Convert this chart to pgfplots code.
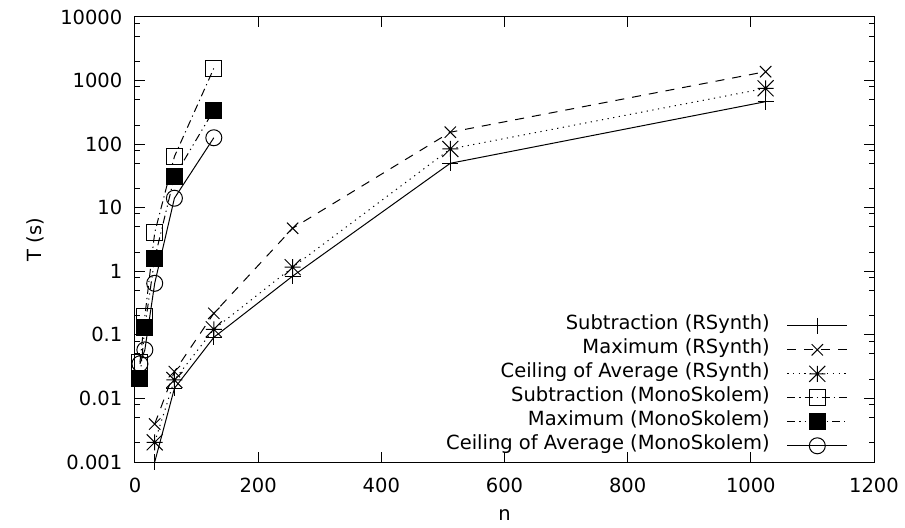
\documentclass[border=0pt]{standalone}
\usepackage{fontspec}
\setmainfont{DejaVu Sans}
\usepackage{pgfplots}
\pgfplotsset{compat=1.18}

% gnuplot style star: plus and cross together
\pgfdeclareplotmark{gstar}{%
  \pgfpathmoveto{\pgfqpoint{-\pgfplotmarksize}{0pt}}%
  \pgfpathlineto{\pgfqpoint{\pgfplotmarksize}{0pt}}%
  \pgfpathmoveto{\pgfqpoint{0pt}{-\pgfplotmarksize}}%
  \pgfpathlineto{\pgfqpoint{0pt}{\pgfplotmarksize}}%
  \pgfpathmoveto{\pgfqpoint{-\pgfplotmarksize}{-\pgfplotmarksize}}%
  \pgfpathlineto{\pgfqpoint{\pgfplotmarksize}{\pgfplotmarksize}}%
  \pgfpathmoveto{\pgfqpoint{-\pgfplotmarksize}{\pgfplotmarksize}}%
  \pgfpathlineto{\pgfqpoint{\pgfplotmarksize}{-\pgfplotmarksize}}%
  \pgfusepathqstroke}

\begin{document}
\begin{tikzpicture}
\begin{axis}[
    scale only axis,
    width=739bp, height=445bp,
    xmin=0, xmax=1200,
    ymode=log, ymin=0.001, ymax=10000,
    font=\fontsize{19.5bp}{23bp}\selectfont,
    axis line style={line width=1bp},
    every tick/.style={line width=1bp, black},
    major tick length=10bp, minor tick length=5bp,
    xtick={0,200,400,600,800,1000,1200},
    xticklabels={0,200,400,600,800,1000,1200},
    ytick={0.001,0.01,0.1,1,10,100,1000,10000},
    yticklabels={0.001,0.01,0.1,1,10,100,1000,10000},
    minor ytick={0.002,0.005,0.008,0.02,0.05,0.08,0.2,0.5,0.8,2,5,8,20,50,80,200,500,800,2000,5000,8000},
    xticklabel style={anchor=base, inner sep=0pt, yshift=-30bp},
    yticklabel style={anchor=east, inner sep=0pt, xshift=-12.5bp},
    xlabel={n}, ylabel={T (s)},
    every axis x label/.style={at={(axis description cs:0.5,-0.1191)}, anchor=center},
    every axis y label/.style={at={(axis description cs:-0.1353,0.5)}, anchor=center, rotate=90},
    legend plot pos=right,
    legend cell align=right,
    legend image code/.code={\draw[mark repeat=2, mark phase=2] plot coordinates {(0bp,0bp) (30bp,0bp) (60bp,0bp)};},
    legend style={draw=none, fill=none, at={(rel axis cs:1,0)}, anchor=south east,
        xshift=-26bp, yshift=4bp, inner sep=0pt, row sep=0pt, column sep=17bp,
        nodes={inner sep=0pt, text height=16bp, text depth=8bp}},
    every axis plot/.append style={line width=1bp, black, mark size=8bp},
]
% RSynth
\addplot[mark=+, mark options={solid}] coordinates {
  (32,0.001) (64,0.0144) (128,0.0913) (256,0.84) (512,50) (1024,466)
};
\addlegendentry{Subtraction (RSynth)}
\addplot[dash pattern=on 9bp off 8bp, mark=x, mark options={solid}] coordinates {
  (32,0.00396) (64,0.0264) (128,0.218) (256,4.75) (512,154) (1024,1380)
};
\addlegendentry{Maximum (RSynth)}
\addplot[dash pattern=on 1.2bp off 4.5bp, mark=gstar, mark options={solid}] coordinates {
  (32,0.00204) (64,0.0195) (128,0.122) (256,1.16) (512,84) (1024,755)
};
\addlegendentry{Ceiling of Average (RSynth)}
% MonoSkolem
\addplot[dash pattern=on 8bp off 4bp on 1.2bp off 4bp, mark=square, mark options={solid}] coordinates {
  (8,0.037) (16,0.195) (32,4.05) (64,63.7) (128,1560)
};
\addlegendentry{Subtraction (MonoSkolem)}
\addplot[dash pattern=on 8bp off 4bp on 1.2bp off 4bp on 1.2bp off 4bp, mark=square*, mark options={solid, fill=black}] coordinates {
  (8,0.0207) (16,0.132) (32,1.6) (64,30.8) (128,344)
};
\addlegendentry{Maximum (MonoSkolem)}
\addplot[mark=o, mark options={solid}] coordinates {
  (8,0.035) (16,0.058) (32,0.647) (64,14.1) (128,126)
};
\addlegendentry{Ceiling of Average (MonoSkolem)}
\end{axis}
\pgfresetboundingbox
\path (-135bp,-66bp) rectangle (770bp,462bp);
\end{tikzpicture}
\end{document}
